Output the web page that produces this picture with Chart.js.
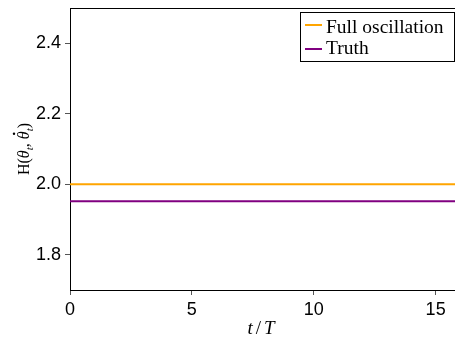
<!DOCTYPE html>
<html>
<head>
<meta charset="utf-8">
<script src="https://cdn.jsdelivr.net/npm/chart.js@4"></script>
<style>
html, body { margin: 0; padding: 0; background: #fff; overflow: hidden; }
#wrap { width: 460px; height: 340px; position: relative; }
</style>
</head>
<body>
<div id="wrap"><canvas id="hamChart"></canvas></div>
<script>
// values
const times = [0, 16];
const fullOscillation = [2.0, 2.0];
const truth = [1.952, 1.952];
const xTicks = [0, 5, 10, 15];
const yTicks = [1.8, 2.0, 2.2, 2.4];
const seriesNames = ['Full oscillation', 'Truth'];
const seriesColors = ['#ffa500', '#800080'];

const tickFont = { family: "'Liberation Sans', Arial, sans-serif", size: 18 };
const serif = "'Liberation Serif', 'DejaVu Serif', serif";

function pts(ys) {
    return times.map((t, i) => ({ x: t, y: ys[i] }));
}

// top frame line (axes draw left + bottom)
const framePlugin = {
    id: 'frame',
    afterDraw(chart) {
        const { ctx, chartArea: a } = chart;
        ctx.save();
        ctx.strokeStyle = '#000';
        ctx.lineWidth = 1;
        ctx.beginPath();
        ctx.moveTo(a.left, a.top + 0.5);
        ctx.lineTo(a.right, a.top + 0.5);
        ctx.stroke();
        ctx.restore();
    }
};

// legend in a box at top right
const boxLegend = {
    id: 'boxLegend',
    afterDraw(chart) {
        const { ctx } = chart;
        const x0 = 300.5, y0 = 12.5, w = 154, h = 49;
        ctx.save();
        ctx.fillStyle = '#fff';
        ctx.fillRect(x0, y0, w, h);
        ctx.strokeStyle = '#000';
        ctx.lineWidth = 1;
        ctx.strokeRect(x0, y0, w, h);
        ctx.font = '19.5px ' + serif;
        ctx.textBaseline = 'alphabetic';
        chart.data.datasets.forEach((ds, i) => {
            const y = 25 + i * 24;
            ctx.strokeStyle = ds.borderColor;
            ctx.lineWidth = 2;
            ctx.beginPath();
            ctx.moveTo(305, y);
            ctx.lineTo(322, y);
            ctx.stroke();
            ctx.fillStyle = '#000';
            ctx.fillText(ds.label, 326, 33 + i * 21);
        });
        ctx.restore();
    }
};

// axis titles with math-ish text
const axisTitles = {
    id: 'axisTitles',
    afterDraw(chart) {
        const { ctx, chartArea: a } = chart;
        ctx.save();
        ctx.fillStyle = '#000';
        ctx.textBaseline = 'alphabetic';
        ctx.textAlign = 'left';

        // x title: t / T
        const xp = [
            { s: 't', f: 'italic 19px ' + serif, gap: 3 },
            { s: '/', f: '19px ' + serif, gap: 3 },
            { s: 'T', f: 'italic 19px ' + serif, gap: 0 }
        ];
        let tw = 0;
        xp.forEach(p => { ctx.font = p.f; p.w = ctx.measureText(p.s).width; tw += p.w + p.gap; });
        let xx = 261 - tw / 2;
        xp.forEach(p => { ctx.font = p.f; ctx.fillText(p.s, xx, 334); xx += p.w + p.gap; });

        // y title: H(θt, θ̇t), rotated
        const parts = [
            { s: 'H(', f: '16px ' + serif, dy: 0 },
            { s: 'θ', f: 'italic 16px ' + serif, dy: 0 },
            { s: 't', f: 'italic 11px ' + serif, dy: 4 },
            { s: ', ', f: '16px ' + serif, dy: 0 },
            { s: 'θ', f: 'italic 16px ' + serif, dy: 0, dot: true },
            { s: 't', f: 'italic 11px ' + serif, dy: 4 },
            { s: ')', f: '16px ' + serif, dy: 0 }
        ];
        let total = 0;
        parts.forEach(p => { ctx.font = p.f; p.w = ctx.measureText(p.s).width; total += p.w; });
        ctx.translate(29, (a.top + a.bottom) / 2);
        ctx.rotate(-Math.PI / 2);
        let x = -total / 2;
        parts.forEach(p => {
            ctx.font = p.f;
            ctx.fillText(p.s, x, p.dy);
            if (p.dot) {
                ctx.beginPath();
                ctx.arc(x + p.w / 2 + 1.5, -15, 1.2, 0, Math.PI * 2);
                ctx.fill();
            }
            x += p.w;
        });
        ctx.restore();
    }
};

const hamChart = new Chart(document.getElementById('hamChart'), {
    type: 'line',
    data: {
        datasets: [
            { label: seriesNames[0], data: pts(fullOscillation), borderColor: seriesColors[0], borderWidth: 2, pointRadius: 0, fill: false },
            { label: seriesNames[1], data: pts(truth), borderColor: seriesColors[1], borderWidth: 2, pointRadius: 0, fill: false }
        ]
    },
    options: {
        responsive: true,
        maintainAspectRatio: false,
        animation: false,
        devicePixelRatio: 1,
        layout: { padding: { top: 8, left: 0, right: 0, bottom: 0 } },
        plugins: { legend: { display: false }, tooltip: { enabled: false } },
        scales: {
            x: {
                type: 'linear',
                min: 0,
                max: 16,
                afterBuildTicks: s => { s.ticks = xTicks.map(v => ({ value: v })); },
                afterFit: s => { s.height = 50; s.paddingLeft = 0; s.paddingRight = 0; },
                ticks: { font: tickFont, color: '#000', padding: 4, maxRotation: 0, callback: v => String(v) },
                grid: { drawOnChartArea: false, tickLength: 5, color: '#555' },
                border: { color: '#000', width: 1 }
            },
            y: {
                min: 1.7,
                max: 2.5,
                afterBuildTicks: s => { s.ticks = yTicks.map(v => ({ value: v })); },
                afterFit: s => { s.width = 70; s.paddingTop = 0; s.paddingBottom = 0; },
                ticks: { font: tickFont, color: '#000', padding: 4, callback: v => v.toFixed(1) },
                grid: { drawOnChartArea: false, tickLength: 5, color: '#555' },
                border: { color: '#000', width: 1 }
            }
        }
    },
    plugins: [framePlugin, boxLegend, axisTitles]
});
</script>
</body>
</html>
